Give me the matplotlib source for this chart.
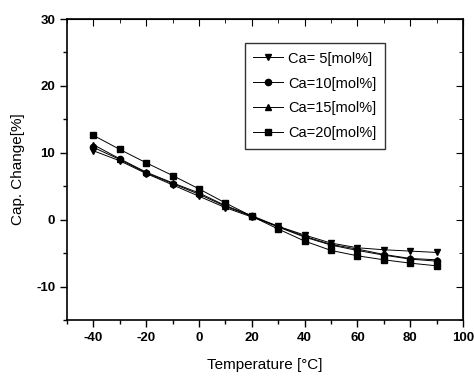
import matplotlib
matplotlib.use("Agg")
import matplotlib.pyplot as plt
from matplotlib.ticker import MultipleLocator

temps = [-40, -30, -20, -10, 0, 10, 20, 30, 40, 50, 60, 70, 80, 90]
ca5 = [10.3, 8.8, 6.9, 5.2, 3.5, 1.8, 0.4, -1.0, -2.3, -3.5, -4.2, -4.5, -4.7, -4.9]
ca10 = [10.8, 9.0, 7.0, 5.4, 3.8, 2.0, 0.5, -1.1, -2.6, -3.8, -4.6, -5.3, -5.9, -6.2]
ca15 = [11.2, 9.1, 7.1, 5.5, 4.0, 2.1, 0.6, -1.0, -2.5, -3.7, -4.4, -5.2, -5.8, -6.0]
ca20 = [12.6, 10.5, 8.5, 6.6, 4.6, 2.5, 0.5, -1.4, -3.2, -4.6, -5.4, -6.0, -6.5, -6.9]
labels = ["Ca= 5[mol%]", "Ca=10[mol%]", "Ca=15[mol%]", "Ca=20[mol%]"]
markers = ["v", "o", "^", "s"]

plt.rcParams['font.family'] = ['Liberation Sans', 'DejaVu Sans']
plt.rcParams['axes.unicode_minus'] = False

fig = plt.figure(figsize=(4.74, 3.77), dpi=100)
ax = fig.add_axes([0.1414, 0.1512, 0.8354, 0.7984])

for ys, lab, m in zip([ca5, ca10, ca15, ca20], labels, markers):
    ax.plot(temps, ys, color='black', lw=0.7, marker=m, markersize=4.5, label=lab)

ax.set_xlim(-50, 100)
ax.set_ylim(-15, 30)
ax.xaxis.set_major_locator(MultipleLocator(20))
ax.xaxis.set_minor_locator(MultipleLocator(10))
ax.yaxis.set_major_locator(MultipleLocator(10))
ax.yaxis.set_minor_locator(MultipleLocator(5))
ax.tick_params(which='both', direction='out', top=False, right=False, labelsize=9.5, width=1)
ax.tick_params(which='major', length=5)
ax.tick_params(which='minor', length=3)
for t in ax.get_xticklabels() + ax.get_yticklabels():
    t.set_fontweight('bold')
# inward ticks on top/right
secx = ax.secondary_xaxis('top')
secx.xaxis.set_major_locator(MultipleLocator(20))
secx.xaxis.set_minor_locator(MultipleLocator(10))
secx.tick_params(which='both', direction='in', labeltop=False)
secx.tick_params(which='major', length=5)
secx.tick_params(which='minor', length=3)
secy = ax.secondary_yaxis('right')
secy.yaxis.set_major_locator(MultipleLocator(10))
secy.yaxis.set_minor_locator(MultipleLocator(5))
secy.tick_params(which='both', direction='in', labelright=False)
secy.tick_params(which='major', length=5)
secy.tick_params(which='minor', length=3)

for s in ax.spines.values():
    s.set_linewidth(1.2)

ax.set_xlabel("Temperature [°C]", fontsize=11, labelpad=10)
ax.set_ylabel("Cap. Change[%]", fontsize=11, labelpad=8)

leg = ax.legend(loc='upper left', bbox_to_anchor=(0.43, 0.945), fontsize=10.5,
                frameon=True, fancybox=False, edgecolor='black', handlelength=2.0,
                handletextpad=0.4, labelspacing=0.75, borderpad=0.6)
leg.get_frame().set_linewidth(1.0)

fig.savefig("out.png", dpi=100)
